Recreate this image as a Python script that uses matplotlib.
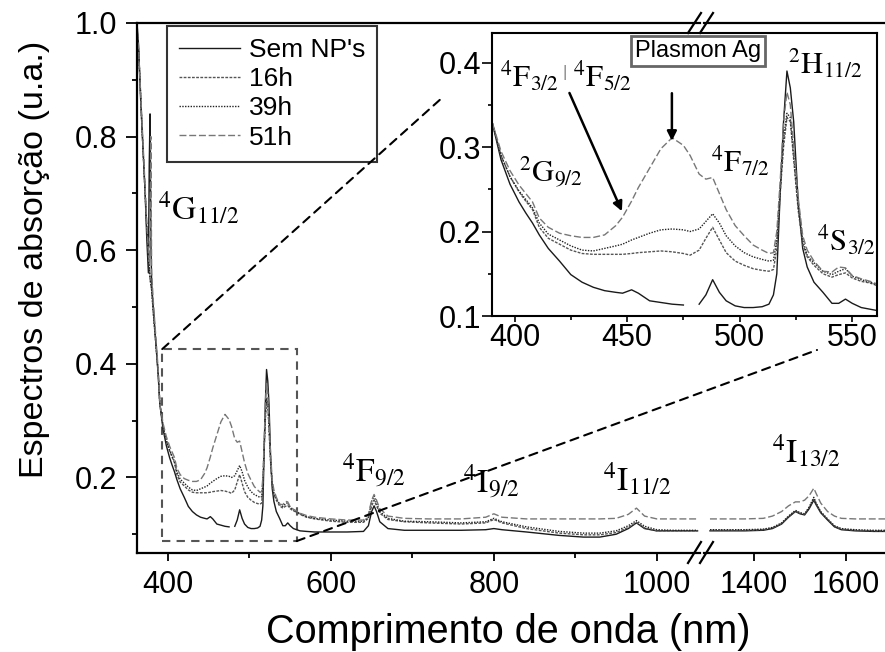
import numpy as np
import matplotlib
matplotlib.use('Agg')
import matplotlib.pyplot as plt
from matplotlib.patches import Rectangle, ConnectionPatch
from matplotlib.lines import Line2D

plt.rcParams['font.family'] = ['Liberation Sans', 'DejaVu Sans']
plt.rcParams['mathtext.fontset'] = 'stix'

# UV-vis part of the spectra (nm)
wl_vis = [362, 364, 366, 368, 370, 372, 374, 376, 377, 378, 379, 380, 382, 384, 386, 388, 390,
          394, 398, 402, 405, 408, 411, 415, 420, 425, 430, 435, 440, 445, 448, 452, 455, 460,
          465, 470, 475, 478, 482, 485, 488, 491, 494, 498, 502, 506, 510, 513, 515, 516.5, 518,
          519.5, 521, 522.5, 524, 526, 528, 530, 533, 537, 541, 544, 547, 550, 554, 558,
          562, 570, 580, 600, 620, 640, 646, 650, 653, 656, 660, 670, 690, 720, 760, 790, 800,
          810, 840, 880, 910, 930, 950, 965, 975, 985, 1000, 1020, 1050]

sem_np = [1.00, 0.96, 0.88, 0.82, 0.76, 0.70, 0.62, 0.56, 0.75, 0.84, 0.62, 0.54, 0.50, 0.46, 0.42, 0.38, 0.33,
          0.285, 0.256, 0.235, 0.222, 0.210, 0.196, 0.180, 0.165, 0.149, 0.140, 0.134, 0.130, 0.128, 0.127, 0.131, 0.127, 0.118,
          0.116, 0.114, 0.113, np.nan, 0.114, 0.125, 0.143, 0.128, 0.118, 0.112, 0.110, 0.110, 0.111, 0.114, 0.125, 0.150, 0.245,
          0.330, 0.390, 0.370, 0.330, 0.235, 0.180, 0.158, 0.140, 0.128, 0.115, 0.115, 0.120, 0.115, 0.110, 0.108,
          0.106, 0.105, 0.104, 0.104, 0.104, 0.105, 0.115, 0.140, 0.150, 0.140, 0.122, 0.110, 0.107, 0.107, 0.107, 0.108, 0.110,
          0.108, 0.104, 0.098, 0.095, 0.095, 0.100, 0.110, 0.120, 0.110, 0.106, 0.106, 0.106]

h16 = [0.98, 0.95, 0.89, 0.82, 0.76, 0.70, 0.64, 0.59, 0.57, 0.55, 0.54, 0.53, 0.49, 0.455, 0.42, 0.385, 0.33,
       0.290, 0.265, 0.247, 0.236, 0.226, 0.205, 0.192, 0.185, 0.178, 0.174, 0.173, 0.173, 0.173, 0.173, 0.174, 0.175, 0.176,
       0.177, 0.176, 0.174, 0.172, 0.178, 0.192, 0.205, 0.190, 0.175, 0.165, 0.160, 0.156, 0.154, 0.153, 0.155, 0.180, 0.245,
       0.300, 0.335, 0.330, 0.285, 0.225, 0.185, 0.170, 0.160, 0.150, 0.146, 0.149, 0.151, 0.145, 0.141, 0.139,
       0.135, 0.130, 0.127, 0.123, 0.121, 0.121, 0.128, 0.150, 0.160, 0.150, 0.137, 0.126, 0.122, 0.120, 0.118, 0.120, 0.126,
       0.120, 0.110, 0.102, 0.099, 0.099, 0.103, 0.112, 0.121, 0.111, 0.106, 0.106, 0.106]

h39 = [0.99, 0.95, 0.89, 0.82, 0.76, 0.70, 0.64, 0.59, 0.57, 0.55, 0.54, 0.53, 0.49, 0.455, 0.42, 0.385, 0.33,
       0.290, 0.265, 0.248, 0.238, 0.228, 0.210, 0.197, 0.190, 0.183, 0.178, 0.177, 0.180, 0.183, 0.185, 0.190, 0.193, 0.198,
       0.202, 0.203, 0.202, 0.200, 0.203, 0.212, 0.221, 0.210, 0.195, 0.183, 0.175, 0.170, 0.167, 0.165, 0.166, 0.190, 0.250,
       0.310, 0.340, 0.335, 0.290, 0.230, 0.190, 0.172, 0.163, 0.153, 0.149, 0.153, 0.156, 0.147, 0.143, 0.140,
       0.136, 0.131, 0.128, 0.125, 0.123, 0.123, 0.130, 0.158, 0.167, 0.155, 0.140, 0.128, 0.123, 0.122, 0.120, 0.122, 0.128,
       0.122, 0.113, 0.105, 0.102, 0.102, 0.106, 0.115, 0.124, 0.114, 0.108, 0.107, 0.107]

h51 = [1.00, 0.95, 0.89, 0.83, 0.77, 0.71, 0.65, 0.60, 0.58, 0.62, 0.80, 0.56, 0.51, 0.47, 0.43, 0.39, 0.33,
       0.295, 0.272, 0.255, 0.245, 0.235, 0.216, 0.205, 0.198, 0.195, 0.193, 0.193, 0.196, 0.207, 0.217, 0.236, 0.252, 0.275,
       0.298, 0.311, 0.302, 0.290, 0.268, 0.262, 0.264, 0.245, 0.226, 0.207, 0.195, 0.184, 0.178, 0.174, 0.175, 0.200, 0.260,
       0.330, 0.365, 0.350, 0.300, 0.240, 0.195, 0.178, 0.165, 0.153, 0.152, 0.158, 0.157, 0.148, 0.144, 0.141,
       0.137, 0.133, 0.130, 0.127, 0.125, 0.125, 0.135, 0.160, 0.170, 0.160, 0.145, 0.132, 0.128, 0.127, 0.127, 0.130, 0.136,
       0.130, 0.127, 0.127, 0.127, 0.127, 0.128, 0.135, 0.146, 0.132, 0.127, 0.127, 0.127]

# near-IR part (after the axis break)
wl_ir = [1304, 1340, 1380, 1420, 1440, 1460, 1475, 1490, 1500, 1510, 1520, 1530, 1535, 1545,
         1560, 1575, 1590, 1620, 1660, 1685]
sem_np_ir = [0.106, 0.106, 0.106, 0.107, 0.110, 0.118, 0.130, 0.140, 0.136, 0.134, 0.145, 0.160, 0.152, 0.138,
             0.125, 0.113, 0.108, 0.106, 0.105, 0.105]
h16_ir = [0.107, 0.107, 0.107, 0.108, 0.111, 0.119, 0.131, 0.141, 0.137, 0.135, 0.147, 0.163, 0.154, 0.139,
          0.126, 0.114, 0.109, 0.107, 0.106, 0.106]
h39_ir = [0.108, 0.108, 0.108, 0.109, 0.112, 0.120, 0.132, 0.142, 0.138, 0.136, 0.148, 0.165, 0.155, 0.140,
          0.127, 0.115, 0.110, 0.108, 0.107, 0.107]
h51_ir = [0.127, 0.127, 0.127, 0.128, 0.132, 0.140, 0.150, 0.157, 0.157, 0.160, 0.168, 0.181, 0.172, 0.155,
          0.140, 0.132, 0.128, 0.127, 0.127, 0.127]

series = [
    ("Sem NP's", sem_np, sem_np_ir, dict(color='#1a1a1a', ls='-', lw=1.0)),
    ('16h', h16, h16_ir, dict(color='#555555', ls=(0, (2, 1)), lw=1.0)),
    ('39h', h39, h39_ir, dict(color='#222222', ls=(0, (1, 1)), lw=1.0)),
    ('51h', h51, h51_ir, dict(color='#777777', ls=(0, (5, 2)), lw=1.0)),
]

W, H = 885, 652


def fx(px):
    return px / W


def fy(py):
    return 1 - py / H


fig = plt.figure(figsize=(8.85, 6.52), dpi=100)

ax1 = fig.add_axes([fx(137), fy(553), fx(700) - fx(137), fy(23) - fy(553)])
ax2 = fig.add_axes([fx(704), fy(553), fx(885) - fx(704), fy(23) - fy(553)], sharey=ax1)

for name, vis, ir, st in series:
    ax1.plot(wl_vis, vis, label=name, **st)
    ax2.plot(wl_ir, ir, **st)

ax1.set_xlim(362, 1053)
ax2.set_xlim(1291, 1685)
ax1.set_ylim(0.067, 1.0)

for ax in (ax1, ax2):
    for sp in ax.spines.values():
        sp.set_linewidth(1.6)
    ax.tick_params(which='both', direction='out', width=1.3, labelsize=22)
    ax.tick_params(axis='x', which='major', length=6, pad=6)
    ax.tick_params(axis='x', which='minor', length=3.5)
ax1.spines['right'].set_visible(False)
ax2.spines['left'].set_visible(False)
ax2.spines['right'].set_visible(False)
ax1.tick_params(axis='y', which='major', length=8, pad=6)
ax1.tick_params(axis='y', which='minor', length=3.5)
ax2.tick_params(axis='y', which='both', left=False, labelleft=False)

ax1.set_xticks([400, 600, 800, 1000])
ax1.set_xticks([500, 700, 900], minor=True)
ax2.set_xticks([1400, 1600])
ax2.set_xticks([1500], minor=True)
ax1.set_yticks([0.2, 0.4, 0.6, 0.8, 1.0])
ax1.set_yticks([0.1, 0.3, 0.5, 0.7, 0.9], minor=True)

# legend
handles = [Line2D([], [], **st) for _, _, _, st in series]
leg = ax1.legend(handles, [s[0] for s in series], loc='upper left',
                 bbox_to_anchor=(fx(167), fy(26)), bbox_transform=fig.transFigure,
                 borderaxespad=0, fontsize=19, frameon=True, fancybox=False,
                 labelspacing=0.2, handlelength=2.3, handletextpad=0.35, borderpad=0.45)
leg.get_frame().set_edgecolor('black')
leg.get_frame().set_linewidth(1.5)

# zoom rectangle and connectors
ax1.add_patch(Rectangle((393, 0.088), 165, 0.338, fill=False, ls=(0, (4, 3)),
                        ec='#555555', lw=1.5))
for xyA, xyB in [((393, 0.426), (443, 97)), ((558, 0.088), (817, 350))]:
    con = ConnectionPatch(xyA=xyA, coordsA=ax1.transData,
                          xyB=(fx(xyB[0]), fy(xyB[1])), coordsB=fig.transFigure,
                          ls=(0, (4, 3)), lw=1.5, color='black')
    fig.add_artist(con)

# axis break marks
for y0, y1 in [(563, 542), (33, 13)]:
    for x0 in (688, 700):
        fig.add_artist(Line2D([fx(x0), fx(x0 + 13)], [fy(y0), fy(y1)], color='black', lw=1.6))

# inset
axi = fig.add_axes([fx(492), fy(316), fx(877) - fx(492), fy(33) - fy(316)])
for name, vis, ir, st in series:
    axi.plot(wl_vis, vis, **st)
axi.set_xlim(390, 561)
axi.set_ylim(0.1, 0.435)
axi.set_xticks([400, 450, 500, 550])
axi.set_xticks([425, 475, 525], minor=True)
axi.set_yticks([0.1, 0.2, 0.3, 0.4])
axi.set_yticks([0.15, 0.25, 0.35], minor=True)
for sp in axi.spines.values():
    sp.set_linewidth(1.5)
axi.tick_params(which='both', direction='out', width=1.2, labelsize=22)
axi.tick_params(axis='y', which='major', length=7, pad=1)
axi.tick_params(axis='x', which='major', length=4, pad=1)
axi.tick_params(which='minor', length=3)

axi.annotate('', xy=(448.2, 0.221), xytext=(423.9, 0.367),
             arrowprops=dict(arrowstyle='-|>', color='black', lw=1.8, mutation_scale=14))
axi.annotate('', xy=(469.9, 0.304), xytext=(469.9, 0.367),
             arrowprops=dict(arrowstyle='-|>', color='black', lw=1.8, mutation_scale=14))

fig.text(fx(698), fy(51), 'Plasmon Ag', ha='center', va='center', fontsize=17,
         bbox=dict(boxstyle='square,pad=0.15', fc='white', ec='#666666', lw=2))
fig.text(fx(565), fy(72), '|', ha='center', va='center', fontsize=12, color='#888888')

# transition labels
terms = [
    (r'$^{4}\mathrm{G}_{11/2}$', 158, 208, 24),
    (r'$^{4}\mathrm{F}_{9/2}$', 342, 471, 24),
    (r'$^{4}\mathrm{I}_{9/2}$', 463, 482, 24),
    (r'$^{4}\mathrm{I}_{11/2}$', 603, 479, 24),
    (r'$^{4}\mathrm{I}_{13/2}$', 772, 451, 24),
    (r'$^{4}\mathrm{F}_{3/2}$', 500, 76, 22),
    (r'$^{4}\mathrm{F}_{5/2}$', 573, 76, 22),
    (r'$^{2}\mathrm{H}_{11/2}$', 788, 64, 22),
    (r'$^{2}\mathrm{G}_{9/2}$', 519, 172, 22),
    (r'$^{4}\mathrm{F}_{7/2}$', 711, 161, 22),
    (r'$^{4}\mathrm{S}_{3/2}$', 817, 240, 22),
]
for txt, px, py, fs in terms:
    fig.text(fx(px), fy(py), txt, ha='left', va='center', fontsize=fs)

fig.text(fx(508), fy(632), 'Comprimento de onda (nm)', ha='center', va='center', fontsize=28.5)
fig.text(fx(35), fy(259), 'Espectros de absorção (u.a.)', rotation=90,
         ha='center', va='center', fontsize=24.5)

fig.savefig('out.png', dpi=100)
